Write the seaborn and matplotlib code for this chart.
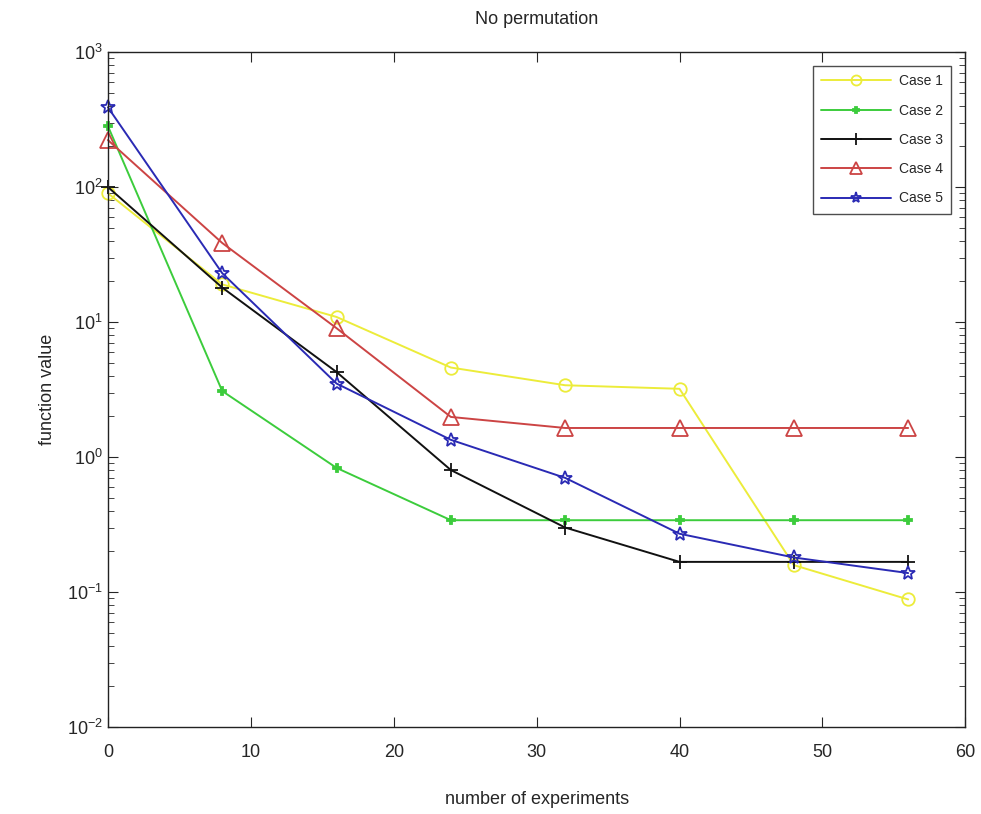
import numpy as np
import pandas as pd
import matplotlib
matplotlib.use("Agg")
import matplotlib.pyplot as plt
import seaborn as sns

sns.set_style("ticks")
plt.rcParams['font.family'] = ['Liberation Sans Narrow', 'Liberation Sans', 'DejaVu Sans']
plt.rcParams['mathtext.fontset'] = 'custom'
plt.rcParams['mathtext.rm'] = 'Liberation Sans'

experiments = [0, 8, 16, 24, 32, 40, 48, 56]
case1 = [90, 19, 10.9, 4.6, 3.4, 3.2, 0.158, 0.088]
case2 = [283, 3.08, 0.83, 0.34, 0.34, 0.34, 0.34, 0.34]
case3 = [100, 18, 4.26, 0.80, 0.30, 0.167, 0.167, 0.167]
case4 = [223, 38.5, 9.0, 1.98, 1.64, 1.64, 1.64, 1.64]
case5 = [390, 23, 3.5, 1.34, 0.70, 0.27, 0.18, 0.138]

case_names = ["Case 1", "Case 2", "Case 3", "Case 4", "Case 5"]
series = [case1, case2, case3, case4, case5]
colors = ["#ecec3a", "#3ccc3c", "#111111", "#cc4444", "#2a2ab4"]
markers = ["o", "P", "+", "^", "*"]
sizes = [9, 6, 10, 11, 10]
filled = [False, True, False, False, False]

fig = plt.figure(figsize=(9.81, 8.14), dpi=100)
ax = fig.add_axes([0.110, 0.107, 0.874, 0.829])

for name, vals, col, mk, ms, fl in zip(case_names, series, colors, markers, sizes, filled):
    df = pd.DataFrame({"experiments": experiments, "value": vals})
    sns.lineplot(data=df, x="experiments", y="value", ax=ax, color=col,
                 marker=mk, markersize=ms, linewidth=1.4, label=name,
                 markerfacecolor=(col if fl else "none"), markeredgecolor=col,
                 markeredgewidth=1.3, clip_on=False)

ax.set_yscale("log")
ax.set_xlim(0, 60)
ax.set_ylim(1e-2, 1e3)
ax.set_xticks(range(0, 61, 10))
ax.tick_params(which="both", direction="in", top=True, right=True, labelsize=13)
ax.tick_params(axis="x", pad=12)
ax.tick_params(which="major", length=7)
ax.tick_params(which="minor", length=4)
for s in ax.spines.values():
    s.set_linewidth(1.0)
    s.set_color("#222222")

ax.set_xlabel("number of experiments", fontsize=13, labelpad=22)
ax.set_ylabel("function value", fontsize=13, labelpad=8)
ax.set_title("No permutation", fontsize=13, pad=20)

leg = ax.legend(loc="upper right", fontsize=10, frameon=True, fancybox=False,
                edgecolor="#222222", borderaxespad=1.0, handlelength=5.0,
                labelspacing=1.1, borderpad=0.6, handletextpad=0.6,
                markerscale=0.8)
leg.get_frame().set_linewidth(1.0)

fig.savefig("out.png", dpi=100)
